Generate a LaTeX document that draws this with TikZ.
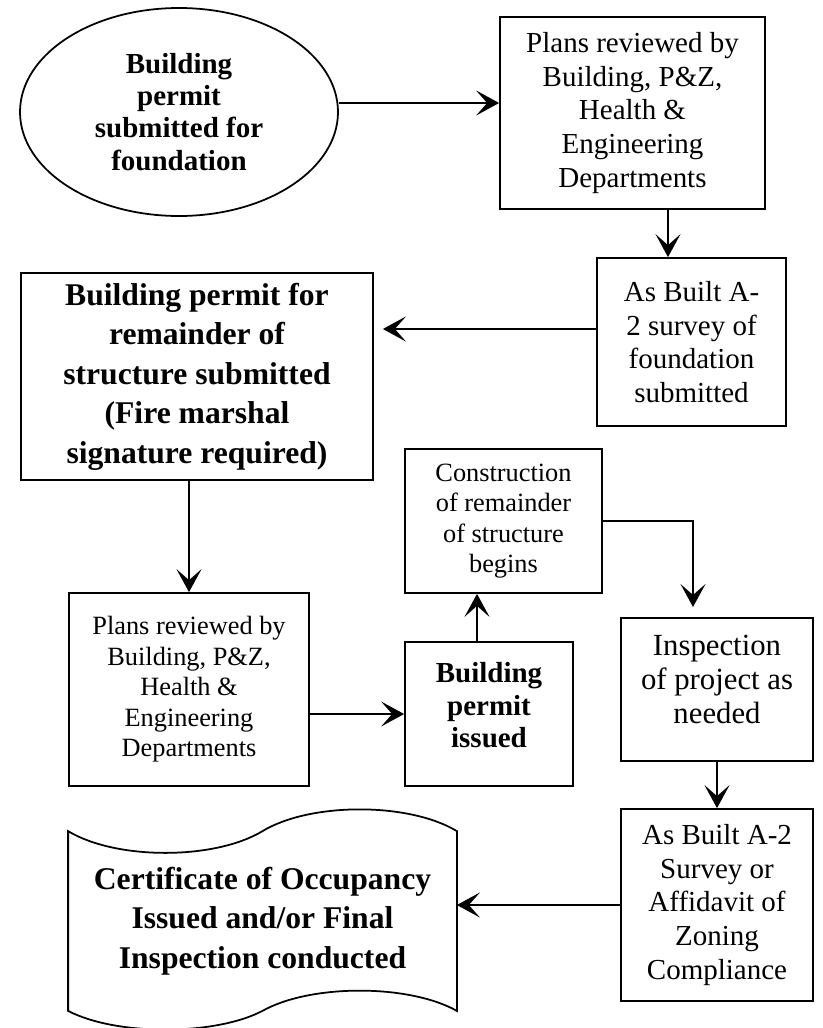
\documentclass[tikz,border=0pt]{standalone}
\usepackage{fontspec}
\setmainfont{Liberation Serif}
\usetikzlibrary{shapes.geometric,arrows.meta}
\def\u{0.02cm}
\tikzset{stage/.style args={#1x#2}{draw,rectangle,align=center,inner sep=2pt,
      minimum width=#1*\u,minimum height=#2*\u},
    fA/.style={font=\fontsize{16.5}{19.2}\selectfont},
    fB/.style={font=\fontsize{15}{17.4}\selectfont},
    fE/.style={font=\fontsize{17.5}{19.4}\selectfont},
    fD/.style={font=\fontsize{16.5}{18.3}\selectfont\bfseries},
    fC/.style={font=\fontsize{18}{22.5}\selectfont\bfseries},
    arr/.style={-{Stealth[length=0.46cm,width=0.5cm,inset=0.22cm]}}}

\begin{document}
\begin{tikzpicture}[x=\u,y=-\u,line width=1pt]
  \useasboundingbox (0,0) rectangle (822,1028);
  \node[ellipse,draw,align=center,minimum width=318*\u,minimum height=208*\u,fD]
    (start) at (179,112) {Building\\permit\\submitted for\\foundation};
  \node[stage=265x192,fA] (rev1) at (632.5,113)
    {Plans reviewed by\\Building, P\&Z,\\Health \&\\Engineering\\Departments};
  \node[stage=189x168,fA] (asb1) at (691.5,342)
    {As Built A-\\2 survey of\\foundation\\submitted};
  \node[stage=352x207,fC] (perm) at (197,376.5)
    {Building permit for\\remainder of\\structure submitted\\(Fire marshal\\signature required)};
  \node[stage=240x193,fB] (rev2) at (189,689.5)
    {Plans reviewed by\\Building, P\&Z,\\Health \&\\Engineering\\Departments};
  \node[stage=168x144,fD,text depth=0.36cm] (issued) at (489,714) {Building\\permit\\issued};
  \node[stage=197x144,fB] (constr) at (503.5,521)
    {Construction\\of remainder\\of structure\\begins};
  \node[stage=192x143,fE,text depth=0.4cm] (insp) at (717,689.5) {Inspection\\of project as\\needed};
  \node[stage=192x192,fA] (final) at (717,905)
    {As Built A-2\\Survey or\\Affidavit of\\Zoning\\Compliance};
  \node[align=center,minimum width=387*\u,minimum height=178*\u,fC] (cert) at (262.5,921)
    {Certificate of Occupancy\\Issued and/or Final\\Inspection conducted};
  \draw (cert.north west) .. controls +(48,29) and +(-48,29) .. (cert.north)
    .. controls +(48,-29) and +(-48,-29) .. (cert.north east) -- (cert.south east)
    .. controls +(-48,-27) and +(48,-27) .. (cert.south)
    .. controls +(-48,25) and +(48,25) .. (cert.south west) -- cycle;
  \coordinate (bend) at (693,607);
  \draw[arr] ([yshift=9*\u]start.east) -- ([yshift=9*\u]start.east -| rev1.west);
  \draw[arr] ([xshift=35.5*\u]rev1.south) -- ([xshift=35.5*\u]rev1.south |- asb1.north);
  \draw[arr,shorten >=9*\u] ([yshift=13*\u]asb1.west) -- ([yshift=13*\u]asb1.west -| perm.east);
  \draw[arr] (perm.south -| rev2.north) -- (rev2.north);
  \draw[arr] (rev2.east |- issued.west) -- (issued.west);
  \draw[arr] ([xshift=-12*\u]issued.north) -- ([xshift=-12*\u]issued.north |- constr.south);
  \draw[arr] (constr.east) -| (bend);
  \draw[arr] (insp) -- (final);
  \draw[arr] (final.west) -- (final.west -| cert.east);
\end{tikzpicture}
\end{document}
